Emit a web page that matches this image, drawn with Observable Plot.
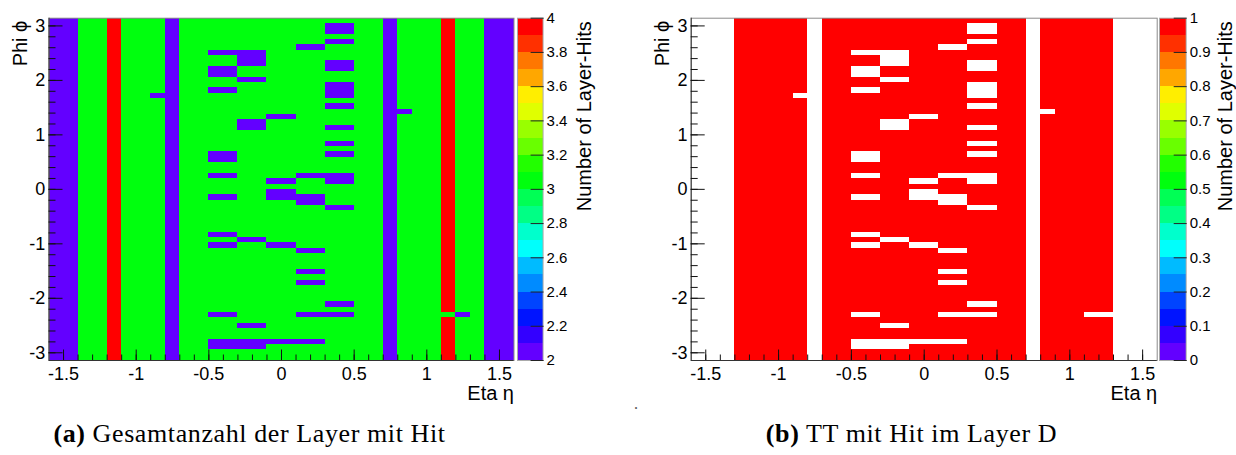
<!DOCTYPE html>
<html><head><meta charset="utf-8">
<script src="https://cdn.jsdelivr.net/npm/d3@7"></script>
<script src="https://cdn.jsdelivr.net/npm/@observablehq/plot@0.6"></script>
<style>
html,body{margin:0;padding:0;background:#fff;}
#root{position:relative;width:1236px;height:455px;overflow:hidden;background:#fff;}
#root svg{position:absolute;top:0;overflow:visible;}
.cap{position:absolute;top:421px;font-family:"Liberation Serif","DejaVu Serif",serif;font-size:26px;line-height:1;white-space:nowrap;letter-spacing:0.6px;transform:translateX(-50%);color:#000;}
.dot{position:absolute;left:634px;top:396px;font-family:"Liberation Serif",serif;font-size:16px;line-height:1;color:#555;}
</style></head><body><div id="root"></div>
<script>
// ---- data ----
const etaEdges  = [-1.6,-1.4,-1.3,-1.2,-1.1,-0.8,-0.7,0.7,0.8,1.1,1.2,1.3,1.4,1.6];
const layerHits = [2, 3, 3, 4, 3, 2, 3, 2, 3, 4, 3, 3, 2];              // panel (a), per eta strip
const layerD    = [0, 0, 1, 1, 1, 0, 1, 0, 1, 1, 1, 0, 0];              // panel (b), per eta strip
const phiBins = 64;
// cells with a missing layer-D hit: [etaLo, etaHi, firstPhiBin(from top), lastPhiBin, hits in (a)]
const defects = [
  [-0.9,-0.8,14,14,2],
  [-0.5,-0.3,6,6,2],[-0.5,-0.3,9,10,2],[-0.5,-0.3,13,13,2],[-0.5,-0.3,25,26,2],[-0.5,-0.3,29,29,2],
  [-0.5,-0.3,33,33,2],[-0.5,-0.3,40,40,2],[-0.5,-0.3,42,42,2],[-0.5,-0.3,55,55,2],[-0.5,-0.3,60,61,2],
  [-0.3,-0.1,6,8,2],[-0.3,-0.1,11,11,2],[-0.3,-0.1,19,20,2],[-0.3,-0.1,41,41,2],[-0.3,-0.1,57,57,2],[-0.3,-0.1,60,61,2],
  [-0.1,0.1,18,18,2],[-0.1,0.1,30,30,2],[-0.1,0.1,32,33,2],[-0.1,0.1,42,42,2],[-0.1,0.1,60,60,2],
  [0.1,0.3,5,5,2],[0.1,0.3,29,29,2],[0.1,0.3,33,34,2],[0.1,0.3,43,43,2],[0.1,0.3,47,47,2],
  [0.1,0.3,49,49,2],[0.1,0.3,55,55,2],[0.1,0.3,60,60,2],
  [0.3,0.5,1,2,2],[0.3,0.5,4,4,2],[0.3,0.5,8,9,2],[0.3,0.5,12,14,2],[0.3,0.5,16,16,2],[0.3,0.5,20,20,2],
  [0.3,0.5,23,23,2],[0.3,0.5,25,25,2],[0.3,0.5,29,30,2],[0.3,0.5,35,35,2],[0.3,0.5,53,53,2],[0.3,0.5,55,55,2],
  [0.8,0.9,17,17,2],
  [1.1,1.2,55,55,3],[1.2,1.3,55,55,2]
];
// ROOT pretty palette, 20 contour bands (bottom -> top)
const palette = ["#6300FF","#3300FF","#0014FF","#0044FF","#008BFF","#00BBFF","#00FFFC","#00FFCC","#00FF85","#00FF55",
                 "#00FF0E","#22FF00","#69FF00","#99FF00","#E0FF00","#FFEE00","#FFA700","#FF7700","#FF3000","#FF0000"];
const xMajor = [-1.5,-1,-0.5,0,0.5,1,1.5];
const yMajor = [-3,-2,-1,0,1,2,3];
const cbTicksA = [2,2.2,2.4,2.6,2.8,3,3.2,3.4,3.6,3.8,4];
const cbTicksB = [0,0.1,0.2,0.3,0.4,0.5,0.6,0.7,0.8,0.9,1];
const xTitle = "Eta η", yTitle = "Phi ϕ", zTitle = "Number of Layer-Hits";
const captionA = ["(a)", "Gesamtanzahl der Layer mit Hit"];
const captionB = ["(b)", "TT mit Hit im Layer D"];

// ---- drawing ----
const PI = Math.PI, dPhi = 2 * PI / phiBins;
const xMinor = d3.range(-15, 16).map(i => i / 10);
const yMinor = d3.range(-15, 16).map(i => i / 5);
const FONT = '"Liberation Sans", Arial, Helvetica, "DejaVu Sans", sans-serif';
const H = 400, MT = 17.7, MB = 40;
const root = document.getElementById("root");

function place(svg, left) { svg.style.left = left + "px"; root.appendChild(svg); }

function heatmap({values, zmin, zmax, cellFill, left, width, marginLeft, marginRight}) {
  const strips = values.map((v, i) => ({x1: etaEdges[i], x2: etaEdges[i + 1], v})).filter(d => d.v > zmin || zmin === 2);
  const thr = d3.range(1, 20).map(i => zmin + i * (zmax - zmin) / 20);
  const svg = Plot.plot({
    width, height: H, marginLeft, marginRight, marginTop: MT, marginBottom: MB,
    style: {fontFamily: FONT, fontSize: "18px", background: "transparent", color: "#000"},
    x: {domain: [-1.6, 1.6], label: null},
    y: {domain: [-PI, PI], label: null},
    color: {type: "threshold", domain: thr, range: palette},
    marks: [
      Plot.rect(strips, {x1: "x1", x2: "x2", y1: () => -PI, y2: () => PI, fill: "v", shapeRendering: "crispEdges"}),
      Plot.rect(defects, {x1: d => d[0], x2: d => d[1], y1: d => PI - (d[3] + 1) * dPhi, y2: d => PI - d[2] * dPhi,
        fill: cellFill, shapeRendering: "crispEdges"}),
      Plot.frame({stroke: "#8a8a8a", strokeWidth: 1}),
      Plot.ruleX([-1.6], {stroke: "#333"}),
      Plot.ruleY([-PI], {stroke: "#333"}),
      Plot.axisX({ticks: xMinor, tickSize: -5.5, tickFormat: () => "", label: null, stroke: "#111"}),
      Plot.axisX({ticks: xMajor, tickSize: -10.5, tickFormat: () => "", label: null, stroke: "#111"}),
      Plot.axisX({ticks: xMajor, tickSize: 0, tickPadding: 6.5, tickFormat: d => String(d), label: null, fontSize: 18}),
      Plot.axisY({ticks: yMinor, tickSize: -7, tickFormat: () => "", label: null, stroke: "#111"}),
      Plot.axisY({ticks: yMajor, tickSize: -14, tickFormat: () => "", label: null, stroke: "#111"}),
      Plot.axisY({ticks: yMajor, tickSize: 0, tickPadding: 3.8, tickFormat: d => String(d), label: null, fontSize: 18}),
      Plot.text([xTitle], {text: d => d, frameAnchor: "bottom-right", textAnchor: "end", lineAnchor: "bottom", dy: 39, fontSize: 20}),
      Plot.text([yTitle], {text: d => d, frameAnchor: "top-left", rotate: -90, textAnchor: "end", lineAnchor: "bottom", dx: -22, dy: 2.5, fontSize: 20})
    ]
  });
  place(svg, left);
}

function colorbar({zmin, zmax, ticks, left, barWidth, titleDx}) {
  const thr = d3.range(1, 20).map(i => zmin + i * (zmax - zmin) / 20);
  const bands = d3.range(20).map(j => ({lo: zmin + j * (zmax - zmin) / 20, hi: zmin + (j + 1) * (zmax - zmin) / 20}));
  const width = 76;
  const svg = Plot.plot({
    width, height: H, marginLeft: 0, marginRight: width - barWidth, marginTop: MT, marginBottom: MB,
    style: {fontFamily: FONT, fontSize: "15px", background: "transparent", color: "#000"},
    y: {domain: [zmin, zmax], label: null},
    color: {type: "threshold", domain: thr, range: palette},
    marks: [
      Plot.rect(bands, {y1: "lo", y2: "hi", fill: d => (d.lo + d.hi) / 2, shapeRendering: "crispEdges"}),
      Plot.frame({stroke: "#aaa", strokeWidth: 1}),
      Plot.axisY({anchor: "right", ticks, tickSize: -13, tickFormat: () => "", label: null, stroke: "#222"}),
      Plot.axisY({anchor: "right", ticks, tickSize: 0, tickPadding: 3.5, tickFormat: d => String(+d.toFixed(2)), label: null, fontSize: 15}),
      Plot.text([zTitle], {text: d => d, frameAnchor: "top-right", rotate: -90, textAnchor: "end", lineAnchor: "bottom", dx: titleDx, dy: 3, fontSize: 20})
    ]
  });
  place(svg, left);
}

heatmap({values: layerHits, zmin: 2, zmax: 4, cellFill: d => d[4], left: 0, width: 618, marginLeft: 48.5, marginRight: 104.5});
colorbar({zmin: 2, zmax: 4, ticks: cbTicksA, left: 516.7, barWidth: 25.6, titleDx: 47.7});
heatmap({values: layerD, zmin: 0, zmax: 1, cellFill: () => "white", left: 642, width: 594, marginLeft: 48.7, marginRight: 79.3});
colorbar({zmin: 0, zmax: 1, ticks: cbTicksB, left: 1159, barWidth: 26.7, titleDx: 45.5});

function caption(parts, center) {
  const div = document.createElement("div");
  div.className = "cap";
  div.style.left = center + "px";
  const b = document.createElement("b"); b.textContent = parts[0];
  div.appendChild(b);
  div.appendChild(document.createTextNode(" " + parts[1]));
  root.appendChild(div);
}
caption(captionA, 249.5);
caption(captionB, 911.5);
const dot = document.createElement("div"); dot.className = "dot"; dot.textContent = "."; root.appendChild(dot);
</script></body></html>
